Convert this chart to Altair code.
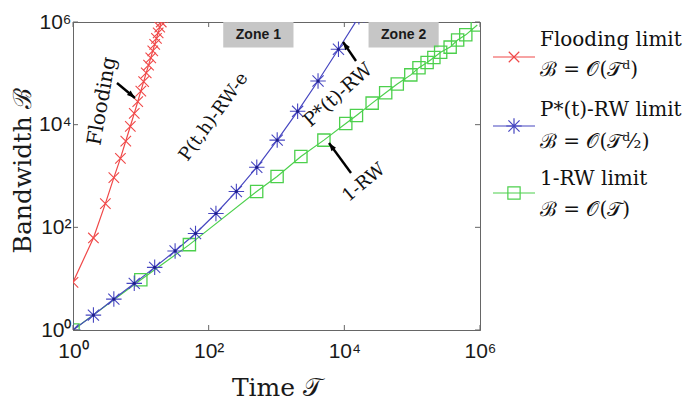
import json
import altair as alt
import pandas as pd

# ---------------- data ----------------
flood_T = [1, 2, 3, 4, 5, 6, 7, 8, 9, 10, 11, 12, 13, 14, 15, 16, 17, 18, 19, 20, 21]
flood_B = [8.5, 62, 290, 930, 2200, 4800, 9300, 16600, 28000, 45000, 69000, 102000,
           145000, 200000, 275000, 365000, 480000, 615000, 795000, 1000000, 1230000]

pstar_T = [1, 2, 4, 8, 16, 32, 64, 128, 256, 512, 1024, 2048, 4096, 8192, 16384]
pstar_B = [1, 1.95, 4, 8.1, 16.6, 34.7, 76, 186, 500, 1480, 5000, 18200, 70800, 295000, 1260000]

rw_T = [1, 10, 52, 510, 1020, 2290, 5000, 10500, 15100, 25700, 40700, 60300, 95500,
        126000, 166000, 209000, 263000, 363000, 468000, 617000, 912000]
rw_B = [1, 9.5, 46, 500, 980, 2400, 5000, 10500, 15100, 26300, 41700, 61700, 93300,
        129000, 162000, 204000, 257000, 324000, 447000, 562000, 871000]

tick_values = [1, 100, 10000, 1000000]
tick_labels = ["10⁰", "10²", "10⁴", "10⁶"]

series_names = ["Flooding limit", "P*(t)-RW limit", "1-RW limit"]
series_formulas = ["ℬ = 𝒪(𝒯ᵈ)", "ℬ = 𝒪(𝒯ᵈ⁄₂)", "ℬ = 𝒪(𝒯)"]

zone_labels = ["Zone 1", "Zone 2"]
zone_T1 = [164, 22750]
zone_T2 = [1780, 246000]
zone_B1 = [320000, 320000]
zone_B2 = [1000000, 1000000]

# ---------------- styling ----------------
RED, BLUE, GREEN = "#f04848", "#4646c0", "#4cd04c"
colors = [RED, BLUE, GREEN]
W, H = 407, 308
SERIF = "DejaVu Serif"
SANS = "Liberation Sans"

xs = alt.Scale(type="log", domain=[1, 1e6], nice=False)
ys = alt.Scale(type="log", domain=[1, 1e6], nice=False)
label_expr = json.dumps(tick_labels) + "[round(log(datum.value)/log(10)/2)]"
xaxis = alt.Axis(values=tick_values, labelExpr=label_expr, title="Time 𝒯",
                 labelPadding=10, labelFlush=False, titleY=45, titleBaseline="top")
yaxis = alt.Axis(values=tick_values, labelExpr=label_expr, title="Bandwidth ℬ",
                 labelPadding=2, labelFlush=False, titleX=-51, titleY=148,
                 titleBaseline="middle", titleAnchor="middle")


def X(f):
    return alt.X(f, type="quantitative", scale=xs, axis=xaxis)


def Y(f):
    return alt.Y(f, type="quantitative", scale=ys, axis=yaxis)


layers = []

# zone boxes
zones = pd.DataFrame({"label": zone_labels, "x1": zone_T1, "x2": zone_T2,
                      "y1": zone_B1, "y2": zone_B2})
zones["xc"] = (zones["x1"] * zones["x2"]) ** 0.5
zones["yc"] = (zones["y1"] * zones["y2"]) ** 0.5
layers.append(alt.Chart(zones).mark_rect(color="#c6c6c6").encode(
    x=X("x1"), x2="x2", y=Y("y1"), y2="y2"))
layers.append(alt.Chart(zones).mark_text(font=SANS, fontWeight="bold", fontSize=14,
                                         color="#1a1a1a").encode(
    x=X("xc"), y=Y("yc"), text="label:N"))

# series
X_PATH = "M-1,-1L1,1M-1,1L1,-1"
STAR_PATH = "M0,-1L0,1M-1,0L1,0M-0.72,-0.72L0.72,0.72M-0.72,0.72L0.72,-0.72"

df_f = pd.DataFrame({"T": flood_T, "B": flood_B})
df_p = pd.DataFrame({"T": pstar_T, "B": pstar_B})
df_r = pd.DataFrame({"T": rw_T, "B": rw_B})

layers.append(alt.Chart(df_r).mark_line(clip=True, color=GREEN, strokeWidth=1.2).encode(x=X("T"), y=Y("B")))
layers.append(alt.Chart(df_p).mark_line(clip=True, color=BLUE, strokeWidth=1.2).encode(x=X("T"), y=Y("B")))
layers.append(alt.Chart(df_f).mark_line(clip=True, color=RED, strokeWidth=1.2).encode(x=X("T"), y=Y("B")))
layers.append(alt.Chart(df_r).mark_point(clip=True, shape="square", size=150, filled=False,
                                         color=GREEN, strokeWidth=1.3, opacity=1).encode(x=X("T"), y=Y("B")))
layers.append(alt.Chart(df_p).mark_point(clip=True, shape=STAR_PATH, size=240, filled=False,
                                         color=BLUE, strokeWidth=1.1, opacity=1).encode(x=X("T"), y=Y("B")))
layers.append(alt.Chart(df_p).mark_point(clip=True, shape="circle", size=10, filled=True,
                                         color="#1e1e8a", opacity=1).encode(x=X("T"), y=Y("B")))
layers.append(alt.Chart(df_f).mark_point(clip=True, shape=X_PATH, size=110, filled=False,
                                         color=RED, strokeWidth=1.1, opacity=1).encode(x=X("T"), y=Y("B")))

# annotations (positions in data units)
annotations = [
    ("Flooding", 2.68, 28900, 280, 20),
    ("P(t,h)-RW-e", 120, 14100, 306, 18),
    ("P*(t)-RW", 8070, 37900, 318, 19),
    ("1-RW", 19500, 731, 320, 18),
]
for txt, t, b, ang, fs in annotations:
    d = pd.DataFrame({"T": [t], "B": [b], "txt": [txt]})
    layers.append(alt.Chart(d).mark_text(font=SERIF, fontSize=fs, angle=ang, color="#111").encode(
        x=X("T"), y=Y("B"), text="txt:N"))

ARROW_HEAD = "M0,0L0.6,1.7L-0.6,1.7Z"
arrows = [
    # tail T, tail B, head T, head B, angle of head
    (4.45, 64900, 8.2, 33100, 130),
    (14870, 174000, 9570, 408000, 326),
    (12540, 1145, 5940, 4400, 324),
]
for t0, b0, t1, b1, ang in arrows:
    d = pd.DataFrame({"T0": [t0], "B0": [b0], "T1": [t1], "B1": [b1]})
    layers.append(alt.Chart(d).mark_rule(color="#000", strokeWidth=2.4).encode(
        x=X("T0"), y=Y("B0"), x2="T1", y2="B1"))
    layers.append(alt.Chart(d).mark_point(shape=ARROW_HEAD, size=90, filled=True, color="#000",
                                          opacity=1, angle=ang).encode(x=X("T1"), y=Y("B1")))

# inward ticks
ticks = pd.DataFrame({"v": tick_values})
TL = 5
layers.append(alt.Chart(ticks).mark_rule(color="#666").encode(x=X("v"), y=alt.value(H), y2=alt.value(H - TL)))
layers.append(alt.Chart(ticks).mark_rule(color="#666").encode(x=X("v"), y=alt.value(0), y2=alt.value(TL)))
layers.append(alt.Chart(ticks).mark_rule(color="#666").encode(y=Y("v"), x=alt.value(0), x2=alt.value(TL)))
layers.append(alt.Chart(ticks).mark_rule(color="#666").encode(y=Y("v"), x=alt.value(W), x2=alt.value(W - TL)))

# manual legend (pixel layout to the right of the plot)
shapes = [(X_PATH, 110, False), (STAR_PATH, 240, False), ("square", 150, False)]
line_y = [35, 104, 171]
name_y = [18, 88, 157]
form_y = [48, 120, 188]
one = pd.DataFrame({"a": [0]})
for i in range(3):
    layers.append(alt.Chart(one).mark_rule(color=colors[i], strokeWidth=1.2).encode(
        x=alt.value(420), x2=alt.value(462), y=alt.value(line_y[i])))
    shp, sz, fl = shapes[i]
    layers.append(alt.Chart(one).mark_point(shape=shp, size=sz, filled=fl, color=colors[i],
                                            strokeWidth=1.2, opacity=1).encode(
        x=alt.value(441), y=alt.value(line_y[i])))
    layers.append(alt.Chart(one).mark_text(font=SERIF, fontSize=20, align="left", baseline="middle",
                                           color="#111", text=series_names[i]).encode(
        x=alt.value(467), y=alt.value(name_y[i])))
    layers.append(alt.Chart(one).mark_text(font=SERIF, fontSize=20, align="left", baseline="middle",
                                           color="#111", text=series_formulas[i]).encode(
        x=alt.value(467), y=alt.value(form_y[i])))

chart = alt.layer(*layers).properties(
    width=W, height=H,
    padding={"left": 65, "top": 14, "right": 203, "bottom": 75},
    autosize=alt.AutoSizeParams(type="none"),
).configure_view(stroke="#666", strokeWidth=1).configure_axis(
    grid=False, domainColor="#666", ticks=False, tickSize=0,
    labelFont=SANS, labelFontSize=21, labelColor="#1a1a1a",
    titleFont=SERIF, titleFontSize=25, titleFontWeight="normal", titleColor="#1a1a1a",
)

chart.save("out.html", embed_options={"renderer": "svg", "actions": False})
